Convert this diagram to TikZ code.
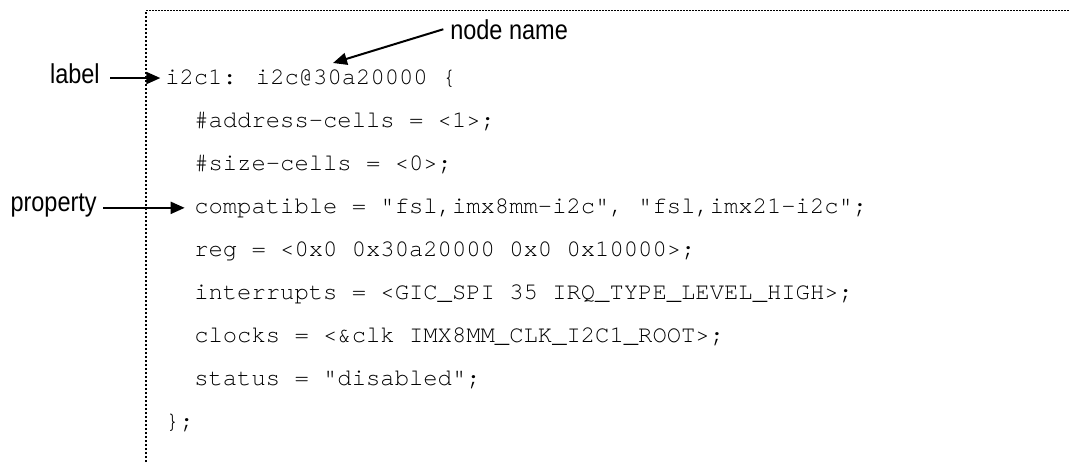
\documentclass[tikz,border=0pt]{standalone}
\usepackage{fontspec}
\usetikzlibrary{arrows.meta}
\newfontfamily\codefont{TeX Gyre Cursor}
\newfontfamily\notefont[FakeStretch=0.86]{Liberation Sans}

\begin{document}
\begin{tikzpicture}[
      x=0.75pt,y=-0.75pt,
      >={Triangle[length=10.5pt,width=9pt]},
      code/.style={
        anchor=base west,inner sep=0pt,
        font=\codefont\fontsize{17.9pt}{20pt}\selectfont
      },
      note/.style={
        inner sep=0pt,font=\notefont\fontsize{20.5pt}{22pt}\selectfont
      },
      pointer/.style={->,line width=1.5pt},
    ]
    \useasboundingbox (0,0) rectangle (1070,462);
    % dotted frame round the listing
    \draw[line width=1.5pt,dash pattern=on 1.5pt off 1.5pt] (146,462) -- (146,10);
    \draw[line width=0.75pt,dash pattern=on 1.5pt off 0.75pt] (146,10) -- (1070,10);
    % the device tree node
    \node[code] (head) at (165,84) {i2c1: i2c@30a20000 \{};
    \node[code] (acells) at (194,127) {\#address-cells = <1>;};
    \node[code] (scells) at (194,170) {\#size-cells = <0>;};
    \node[code] (compat) at (194,213) {compatible = "fsl,imx8mm-i2c", "fsl,imx21-i2c";};
    \node[code] (reg) at (194,256) {reg = <0x0 0x30a20000 0x0 0x10000>;};
    \node[code] (irq) at (194,299) {interrupts = <GIC\_SPI 35 IRQ\_TYPE\_LEVEL\_HIGH>;};
    \node[code] (clk) at (194,342) {clocks = <\&clk IMX8MM\_CLK\_I2C1\_ROOT>;};
    \node[code] (stat) at (194,385) {status = "disabled";};
    \node[code] (tail) at (165,428) {\};};
    % annotations
    \node[note,anchor=east] (lbl) at (100,74) {label};
    \node[note,anchor=east] (prop) at (97,205) {property};
    \node[note,anchor=base west] (name) at (450,39) {node name};
    \coordinate (nametip) at (333,63);
    \draw[pointer] ([xshift=7.5pt]lbl.east |- head.west) -- ([xshift=-3.5pt]head.west);
    \draw[pointer] ([xshift=4.5pt]prop.east |- compat.west) -- ([xshift=-7pt]compat.west);
    \draw[pointer] ([xshift=-5pt]name.west) -- (nametip);
  \end{tikzpicture}
\end{document}
